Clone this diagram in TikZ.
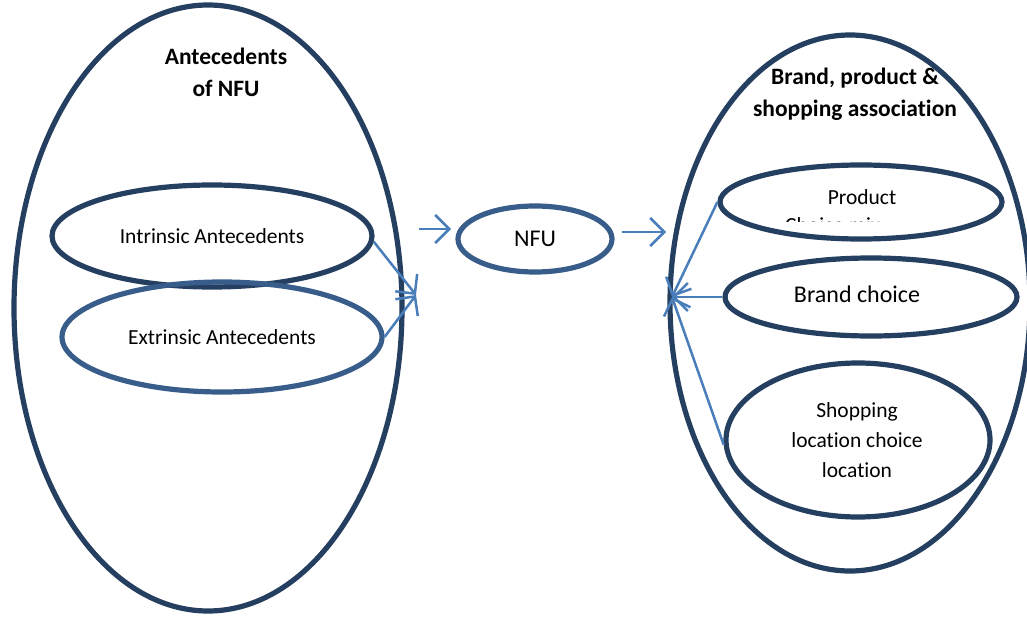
\documentclass[tikz,border=0pt]{standalone}
\usepackage{fontspec}
\setmainfont{Carlito}[Ligatures=NoCommon]
\usetikzlibrary{shapes.geometric,arrows.meta}
\definecolor{navy}{HTML}{243F60}
\definecolor{midblue}{HTML}{385D8A}
\definecolor{arrowblue}{HTML}{4A7EBB}
\tikzset{
  oval/.style={ellipse, draw=navy, line width=5.2pt, inner sep=0pt, align=center, font=\fontsize{21.5}{30}\selectfont},
  ovalb/.style={oval, draw=midblue},
  lbl/.style={align=center, font=\fontsize{21.5}{30}\selectfont},
  title/.style={align=center, font=\fontsize{23.5}{32}\selectfont\bfseries},
  conn/.style={draw=arrowblue, line width=2.5pt, -{Straight Barb[length=14pt,width=28pt,line width=2.5pt]}},
}
\begin{document}
\begin{tikzpicture}[x=1pt,y=-1pt]
\useasboundingbox (0,0) rectangle (1027,620);
% big containers
\node[oval, minimum width=388pt, minimum height=606pt] (left) at (208,308) {};
\node[oval, minimum width=360pt, minimum height=536pt] (right) at (850,303) {};
\node[title] (ltitle) at (226,72) {Antecedents\\of NFU};
\node[title] (rtitle) at (855,94) {Brand, product \&\\shopping association};
% left inner
\node[oval, minimum width=320pt, minimum height=102pt] (intr) at (212,236) {Intrinsic Antecedents};
\node[ovalb, minimum width=320pt, minimum height=110pt] (extr) at (222,337) {Extrinsic Antecedents};
% NFU
\node[ovalb, minimum width=154pt, minimum height=66pt, font=\fontsize{24}{28}\selectfont] (nfu) at (535,239) {NFU};
% right inner
\node[oval, minimum width=282pt, minimum height=74pt] (prod) at (861,202) {};
\node[lbl] (prodt) at (862,197) {Product};
\begin{scope}
\clip (700,150) rectangle (1010,221.5);
\node[anchor=base west, inner sep=0pt, font=\fontsize{21.5}{30}\selectfont] (prodt2) at (785,233) {Choice mix};
\end{scope}
\node[oval, minimum width=292pt, minimum height=78pt] (brand) at (871,297) {};
\node[font=\fontsize{24}{28}\selectfont] (brandt) at (857,294) {Brand choice};
\node[oval, minimum width=264pt, minimum height=154pt] (shop) at (858,440) {};
\node[lbl] (shopt) at (857,440) {Shopping\\location choice\\location};
% connectors
\coordinate (jl) at (416,295);
\coordinate (jr) at (672,297);
\coordinate (a1s) at (419,229);
\coordinate (a1e) at (451,229);
\coordinate (a2s) at (622,232);
\coordinate (a2e) at (666,232);
\draw[conn] (intr.-2.5) -- (jl);
\draw[conn] (extr.0) -- (jl);
\draw[conn] (a1s) -- (a1e);
\draw[conn] (a2s) -- (a2e);
\draw[conn] (prod.west) -- (jr);
\draw[conn] (brand.west) -- (jr);
\draw[conn] (shop.182) -- (jr);
\end{tikzpicture}
\end{document}
